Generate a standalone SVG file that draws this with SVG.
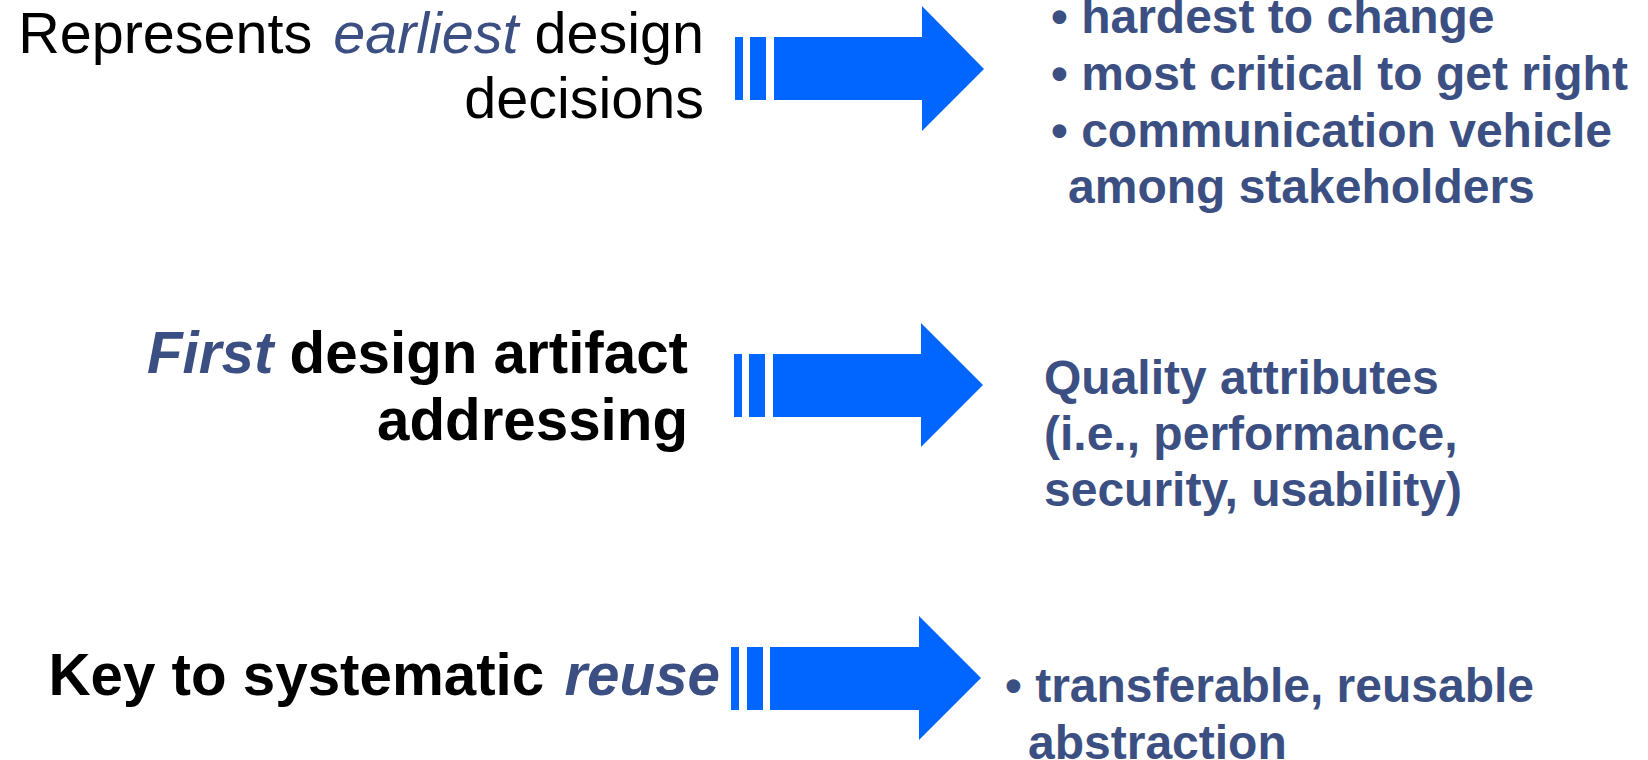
<svg xmlns="http://www.w3.org/2000/svg" width="1648" height="760" viewBox="0 0 1648 760">
<style>
.l{font-family:"Liberation Sans",Arial,sans-serif;fill:#000}
.n{font-size:57.5px;font-weight:normal}
.b{font-size:58.3px;font-weight:bold}
.em{font-style:italic;fill:#3C4F83}
.r{font-family:"Liberation Sans",Arial,sans-serif;font-size:48px;font-weight:bold;fill:#3C4F83}
.arr{fill:#0066FF}
</style>
<rect width="1648" height="760" fill="#fff"/>
<g id="left1">
<text class="l n" text-anchor="end" x="704" y="53">Represents <tspan class="em" dx="5">earliest</tspan> design</text>
<text class="l n" text-anchor="end" x="704" y="118">decisions</text>
</g>
<g id="left2">
<text class="l b" text-anchor="end" x="688" y="373"><tspan class="em">First</tspan> design artifact</text>
<text class="l b" text-anchor="end" x="688" y="440">addressing</text>
</g>
<g id="left3">
<text class="l b" text-anchor="end" x="720" y="695">Key to systematic <tspan class="em" dx="4">reuse</tspan></text>
</g>
<g id="right1">
<text class="r" x="1051" y="33">• hardest to change</text>
<text class="r" x="1051" y="90">• most critical to get right</text>
<text class="r" x="1051" y="147">• communication vehicle</text>
<text class="r" x="1068" y="203">among stakeholders</text>
</g>
<g id="right2">
<text class="r" x="1044" y="394">Quality attributes</text>
<text class="r" x="1044" y="450">(i.e., performance,</text>
<text class="r" x="1044" y="506">security, usability)</text>
</g>
<g id="right3">
<text class="r" x="1005" y="702">• transferable, reusable</text>
<text class="r" x="1028" y="759">abstraction</text>
</g>
<g id="connectors">
<g id="arrow1" class="arr">
<rect x="735" y="37" width="8" height="63"/>
<rect x="750" y="37" width="16" height="63"/>
<polygon points="774,37 922,37 922,6 984,69 922,131 922,100 774,100"/>
</g>
<g id="arrow2" class="arr">
<rect x="734" y="354" width="8" height="63"/>
<rect x="749" y="354" width="16" height="63"/>
<polygon points="773,354 921,354 921,323 983,385 921,447 921,417 773,417"/>
</g>
<g id="arrow3" class="arr">
<rect x="731" y="647" width="8" height="63"/>
<rect x="747" y="647" width="16" height="63"/>
<polygon points="770,647 919,647 919,616 981,678 919,740 919,710 770,710"/>
</g>
</g>
</svg>
